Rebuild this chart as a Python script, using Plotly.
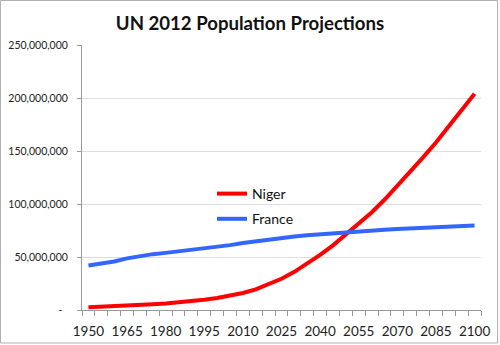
import plotly.graph_objects as go

years = list(range(1950, 2101, 5))
niger = [2.6, 3.0, 3.4, 4.0, 4.7, 5.4, 6.2, 7.2, 8.3, 9.7, 11.3, 13.3, 16.0, 19.5, 24.0, 29.5,
         36.0, 43.5, 52.0, 61.0, 71.0, 81.0, 92.0, 104.0, 117.0, 130.0, 144.0, 158.0, 173.0, 188.0, 204.0]
france = [42.0, 43.5, 45.7, 48.7, 50.8, 52.7, 53.9, 55.3, 56.7, 57.9, 59.2, 61.2, 63.2, 64.9, 66.5, 68.0,
          69.3, 70.5, 71.5, 72.5, 73.4, 74.3, 75.1, 75.8, 76.5, 77.1, 77.7, 78.2, 78.7, 79.2, 79.7]
niger = [v * 1e6 for v in niger]
france = [v * 1e6 for v in france]
xlabels = list(range(1950, 2101, 15))
yticks = [0, 50e6, 100e6, 150e6, 200e6, 250e6]
yticktext = ["-\u00a0\u00a0", "50,000,000", "100,000,000", "150,000,000", "200,000,000", "250,000,000"]

FONT = "Lato"
fig = go.Figure()
fig.add_trace(go.Scatter(x=years, y=niger, mode="lines", name="Niger", legendgroup="n",
                         line=dict(color="#FF0000", width=4)))
fig.add_trace(go.Scatter(x=years, y=france, mode="lines", name="France", legendgroup="f",
                         line=dict(color="#3366FF", width=4)))

W, H = 500, 345
l, r, t, b = 82, 19, 45, 35
pw, ph = W - l - r, H - t - b

fig.update_layout(
    width=W, height=H,
    margin=dict(l=l, r=r, t=t, b=b, autoexpand=False),
    paper_bgcolor="white", plot_bgcolor="white",
    font=dict(family=FONT, color="#222222"),
    title=dict(text="<b>UN 2012 Population Projections</b>", x=0.5, xanchor="center",
               y=1 - 23.5 / H, yanchor="middle", font=dict(size=18.6, family=FONT, color="#111111")),
    legend=dict(x=(212 - l) / pw, y=1 - (178 - t) / ph, xanchor="left", yanchor="top",
                bgcolor="rgba(0,0,0,0)", font=dict(size=14, family=FONT, color="#111111"),
                tracegroupgap=4, itemwidth=30),
    xaxis=dict(range=[1947.5, 2102.5], tickmode="array", tickvals=xlabels,
               ticktext=[str(v) for v in xlabels], ticks="", showgrid=False, automargin=False,
               showline=True, linecolor="#9a9a9a", linewidth=1, ticklabelstandoff=9,
               tickfont=dict(size=13.5, family=FONT, color="#222222"),
               minor=dict(ticks="outside", tick0=1947.5, dtick=5, ticklen=5,
                          tickcolor="#9a9a9a", showgrid=False),
               zeroline=False, fixedrange=True),
    yaxis=dict(range=[0, 250e6], tickmode="array", tickvals=yticks, ticktext=yticktext,
               ticks="outside", ticklen=4, tickcolor="#9a9a9a", ticklabelstandoff=7,
               showgrid=True, gridcolor="#dedede", gridwidth=1, automargin=False,
               showline=True, linecolor="#9a9a9a", linewidth=1,
               tickfont=dict(size=10.5, family=FONT, color="#222222"),
               zeroline=False, fixedrange=True),
    shapes=[dict(type="rect", xref="paper", yref="paper",
                 x0=(0.5 - l) / pw, x1=(497.5 - l) / pw,
                 y0=(H - b - 343) / ph, y1=(H - b - 0.5) / ph,
                 line=dict(color="#b0b0b0", width=1), fillcolor="rgba(0,0,0,0)", layer="below")],
)

fig.write_html("out.html")
